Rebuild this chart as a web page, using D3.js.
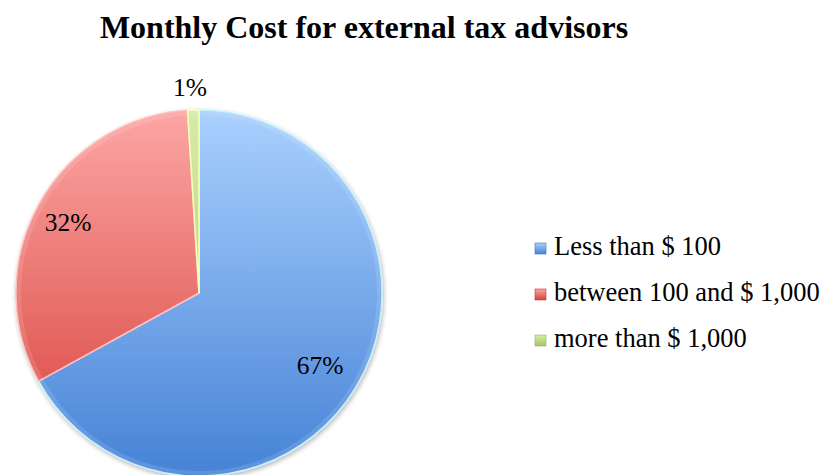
<!DOCTYPE html>
<html>
<head>
<meta charset="utf-8">
<script src="https://cdn.jsdelivr.net/npm/d3@7"></script>
<style>
  html, body { margin: 0; padding: 0; background: #fff; }
  svg { display: block; }
  text { font-family: "Liberation Serif", "Times New Roman", serif; fill: #000; }
</style>
</head>
<body>
<svg id="chart" width="825" height="475"></svg>
<script>
// Monthly cost shares for external tax advisors
const categories = ["Less than $ 100", "between 100 and $ 1,000", "more than $ 1,000"];
const shares = [67, 32, 1];
const labels = ["67%", "32%", "1%"];
// light (top) and dark (bottom) stops of each slice gradient
const lightColors = ["#aad1fe", "#fca6a4", "#d6eca6"];
const darkColors = ["#4682d6", "#d7403a", "#a6c466"];

const svg = d3.select("#chart");
const cx = 199, cy = 293, r = 183;

const defs = svg.append("defs");
categories.forEach((c, i) => {
  // gradient in the pie group's own coordinates (centred on 0,0)
  const g = defs.append("linearGradient")
    .attr("id", "grad" + i)
    .attr("gradientUnits", "userSpaceOnUse")
    .attr("x1", 0).attr("y1", -r)
    .attr("x2", 0).attr("y2", r);
  g.append("stop").attr("offset", "0%").attr("stop-color", lightColors[i]);
  g.append("stop").attr("offset", "100%").attr("stop-color", darkColors[i]);
  const lg = defs.append("linearGradient")
    .attr("id", "lgrad" + i)
    .attr("x1", 0).attr("y1", 0).attr("x2", 0).attr("y2", 1);
  lg.append("stop").attr("offset", "0%").attr("stop-color", lightColors[i]);
  lg.append("stop").attr("offset", "100%").attr("stop-color", darkColors[i]);
});

// soft drop shadow under the pie
const f = defs.append("filter").attr("id", "shadow")
  .attr("x", "-10%").attr("y", "-10%").attr("width", "120%").attr("height", "120%");
f.append("feGaussianBlur").attr("in", "SourceAlpha").attr("stdDeviation", 2.5);
f.append("feOffset").attr("dx", 1).attr("dy", 2).attr("result", "b");
f.append("feComponentTransfer").append("feFuncA").attr("type", "linear").attr("slope", 0.3);
const fm = f.append("feMerge");
fm.append("feMergeNode");
fm.append("feMergeNode").attr("in", "SourceGraphic");

// Title
svg.append("text")
  .attr("x", 364).attr("y", 38)
  .attr("text-anchor", "middle")
  .style("font-size", "32px")
  .style("font-weight", "bold")
  .text("Monthly Cost for external tax advisors");

// Pie
const pie = d3.pie().sort(null).value(d => d)(shares);
const arc = d3.arc().innerRadius(0).outerRadius(r);
const rim = d3.arc().innerRadius(r - 5).outerRadius(r - 1);

const g = svg.append("g").attr("transform", `translate(${cx},${cy})`);
const slices = g.append("g").attr("filter", "url(#shadow)");
slices.selectAll("path.slice")
  .data(pie)
  .join("path")
  .attr("class", "slice")
  .attr("d", arc)
  .attr("fill", (d, i) => `url(#grad${i})`)
  .attr("stroke", (d, i) => d3.color(lightColors[i]).brighter(0.4))
  .attr("stroke-width", 1.5)
  .attr("stroke-linejoin", "round");

// faint highlight along the outer edge
g.selectAll("path.rim")
  .data(pie)
  .join("path")
  .attr("class", "rim")
  .attr("d", rim)
  .attr("fill", "#ffffff")
  .attr("opacity", 0.12);

// Percentage labels
const labelPos = [
  [cx + 121, cy + 81],
  [cx - 131, cy - 62],
  [cx - 9, cy - 197]
];
svg.selectAll("text.pct")
  .data(pie)
  .join("text")
  .attr("class", "pct")
  .attr("x", (d, i) => labelPos[i][0])
  .attr("y", (d, i) => labelPos[i][1])
  .attr("text-anchor", "middle")
  .style("font-size", "25.5px")
  .text((d, i) => labels[i]);

// Legend
const legend = svg.append("g").attr("transform", "translate(535,0)");
const rowY = [255, 301, 347];
const item = legend.selectAll("g.item")
  .data(categories)
  .join("g")
  .attr("class", "item")
  .attr("transform", (d, i) => `translate(0,${rowY[i]})`);
item.append("rect")
  .attr("x", 0).attr("y", -12)
  .attr("width", 11).attr("height", 11)
  .attr("fill", (d, i) => `url(#lgrad${i})`)
  .attr("stroke", (d, i) => d3.color(darkColors[i]).darker(0.3))
  .attr("stroke-width", 0.6);
item.append("text")
  .attr("x", 19).attr("y", 0)
  .style("font-size", "26.5px")
  .text(d => d);
</script>
</body>
</html>
